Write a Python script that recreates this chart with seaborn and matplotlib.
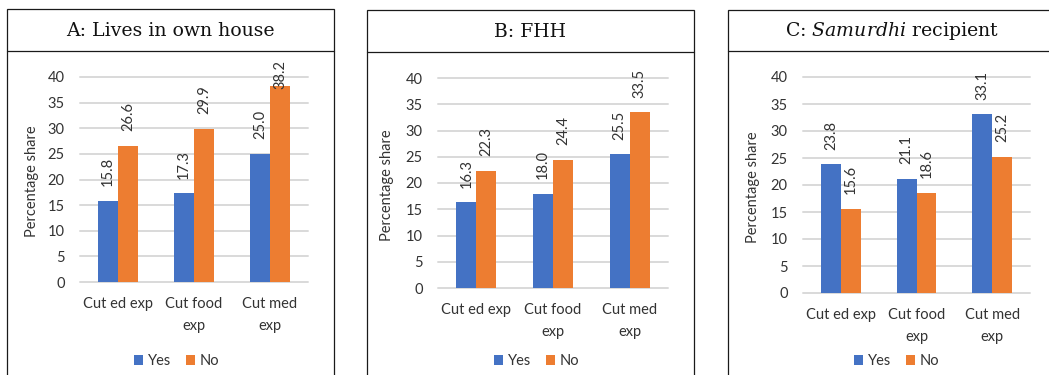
import matplotlib
matplotlib.use("Agg")
import matplotlib.pyplot as plt
from matplotlib.patches import Rectangle
from matplotlib.lines import Line2D
import seaborn as sns
import pandas as pd

# ---- data -------------------------------------------------------------
categories = ["Cut ed exp", "Cut food\nexp", "Cut med\nexp"]
groups = ["Yes", "No"]

own_house_yes = [15.8, 17.3, 25.0]
own_house_no = [26.6, 29.9, 38.2]

fhh_yes = [16.3, 18.0, 25.5]
fhh_no = [22.3, 24.4, 33.5]

samurdhi_yes = [23.8, 21.1, 33.1]
samurdhi_no = [15.6, 18.6, 25.2]

titles = ["A: Lives in own house", "B: FHH", r"C: $\mathit{Samurdhi}$ recipient"]
y_label = "Percentage share"
y_ticks = [0, 5, 10, 15, 20, 25, 30, 35, 40]

# ---- style ------------------------------------------------------------
sns.set_style("white")
plt.rcParams["font.family"] = ["Lato", "DejaVu Sans"]
plt.rcParams["mathtext.fontset"] = "custom"
plt.rcParams["mathtext.rm"] = "DejaVu Serif"
plt.rcParams["mathtext.it"] = "DejaVu Serif:italic"

BLUE = "#4472C4"
ORANGE = "#ED7D31"
GRID = "#D9D9D9"
TEXT = "#333333"

W, H = 1049, 375
fig = plt.figure(figsize=(W / 100, H / 100), dpi=100)
fig.patch.set_facecolor("white")


def fx(px):
    return px / W


def fy(py):
    return 1 - py / H


# panel layout in pixels: box left/right, box top, title rule, axes l/r/t/b
panels = [
    dict(box=(7, 334), top=9, rule=51, ax=(80, 308, 77, 282), yl=32),
    dict(box=(367, 694), top=10, rule=52, ax=(438, 668, 78, 288), yl=387),
    dict(box=(728, 1056), top=10, rule=51, ax=(803, 1030, 77, 293), yl=753),
]
series = [
    (own_house_yes, own_house_no),
    (fhh_yes, fhh_no),
    (samurdhi_yes, samurdhi_no),
]

fs_tick = 10.5
labels_all = []

for p, (yes_vals, no_vals), title in zip(panels, series, titles):
    bl, br = p["box"]
    # outer frame and title rule
    fig.add_artist(Rectangle((fx(bl), fy(H + 5)), fx(br - bl), fy(p["top"]) - fy(H + 5),
                             transform=fig.transFigure, fill=False,
                             edgecolor="#1a1a1a", linewidth=0.9, clip_on=False))
    fig.add_artist(Line2D([fx(bl), fx(br)], [fy(p["rule"]), fy(p["rule"])],
                          transform=fig.transFigure, color="#1a1a1a", linewidth=0.9))
    fig.text(fx((bl + br) / 2), fy((p["top"] + p["rule"]) / 2 + 1), title,
             ha="center", va="center", fontsize=13.6, family="DejaVu Serif",
             color="#111111")

    l, r, t, b = p["ax"]
    ax = fig.add_axes([fx(l), fy(b), fx(r - l), fy(t) - fy(b)])

    df = pd.DataFrame({
        "category": categories * 2,
        "group": [groups[0]] * 3 + [groups[1]] * 3,
        "value": list(yes_vals) + list(no_vals),
    })
    sns.barplot(data=df, x="category", y="value", hue="group",
                order=categories, hue_order=groups,
                palette=[BLUE, ORANGE], saturation=1, width=0.525,
                linewidth=0, ax=ax, legend=False)

    ax.set_xlim(-0.5, 2.5)
    ax.set_ylim(0, 40)
    ax.set_yticks(y_ticks)
    ax.yaxis.grid(True, color=GRID, linewidth=1.4)
    ax.xaxis.grid(False)
    ax.set_axisbelow(True)
    for gl in ax.get_ygridlines():
        gl.set_clip_on(False)
    for s in ax.spines.values():
        s.set_visible(False)
    ax.tick_params(axis="both", length=0, labelsize=fs_tick, labelcolor=TEXT)
    ax.tick_params(axis="y", pad=11)
    ax.tick_params(axis="x", pad=11)
    ax.set_xlabel("")
    ax.set_ylabel("")
    for lab in ax.get_xticklabels():
        lab.set_linespacing(1.7)
    fig.text(fx(p["yl"]), fy((t + b) / 2 + 2), y_label, rotation=90,
             ha="center", va="center", fontsize=fs_tick, color=TEXT)

    # value labels above each bar
    for cont in ax.containers:
        for bar in cont:
            v = bar.get_height()
            xc = bar.get_x() + bar.get_width() / 2
            a = ax.annotate(f"{v:.1f}", xy=(xc, v), xytext=(0, 10.5),
                            textcoords="offset points", rotation=90,
                            ha="center", va="bottom", fontsize=fs_tick,
                            color=TEXT, annotation_clip=False)
            labels_all.append((ax, a, xc))

    # legend below the plot
    handles = [Rectangle((0, 0), 1, 1, facecolor=c, edgecolor="none")
               for c in (BLUE, ORANGE)]
    fig.legend(handles, groups, loc="center",
               bbox_to_anchor=(fx((bl + min(br, 1053)) / 2 + 6), fy(361)),
               ncol=2, frameon=False, fontsize=fs_tick, handlelength=0.65,
               handleheight=0.65, handletextpad=0.3, columnspacing=1.0,
               labelcolor=TEXT)

# keep value labels inside the chart area: push overflowing ones down
fig.canvas.draw()
renderer = fig.canvas.get_renderer()
for ax, a, xc in labels_all:
    bb = a.get_window_extent(renderer)
    limit = ax.get_window_extent(renderer).y1 + 17
    if bb.y1 > limit:
        a.xy = (xc, 1.0)
        a.xycoords = ax.get_xaxis_transform()
        a.set_va("top")
        a.xyann = (0, 17 * 72 / 100)

fig.savefig("out.png", dpi=100, facecolor="white")
